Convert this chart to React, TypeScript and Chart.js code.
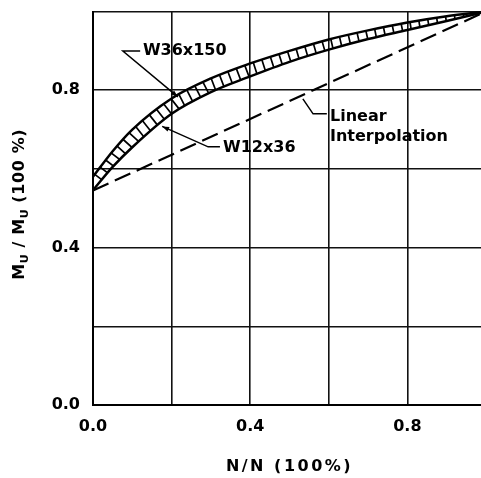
import { useEffect, useRef } from 'react';
import { Chart, registerables } from 'chart.js';

Chart.register(...registerables);

// ---- data ----
const nValues = [0, 0.05, 0.1, 0.2, 0.3, 0.4, 0.5, 0.6, 0.7, 0.8, 0.9, 1.0];
const w36x150 = [0.58, 0.645, 0.70, 0.779, 0.83, 0.868, 0.90, 0.929, 0.952, 0.972, 0.988, 1.0];
const w12x36 = [0.546, 0.605, 0.655, 0.74, 0.795, 0.835, 0.872, 0.903, 0.93, 0.953, 0.976, 1.0];
const linearN = [0, 1];
const linearM = [0.545, 1.0];
const xTickLabels = ['0.0', '0.4', '0.8'];
const yTickLabels = ['0.0', '0.4', '0.8'];
const xTitle = 'N/N (100%)';

// annotation texts with anchors in data units
const annotations = [
  { lines: ['W36x150'], textAt: [0.127, 0.8996], leader: [[0.12, 0.8996], [0.076, 0.8996], [0.216, 0.783]], arrow: true },
  { lines: ['W12x36'], textAt: [0.331, 0.653], leader: [[0.323, 0.656], [0.293, 0.656], [0.176, 0.708]], arrow: true },
  { lines: ['Linear', 'Interpolation'], textAt: [0.603, 0.732], leader: [[0.595, 0.74], [0.56, 0.74], [0.534, 0.778]], arrow: false },
];

const FONT = '"DejaVu Sans", sans-serif';
const WEIGHT = 'bold';
const SIZE = 16;

const setSpacing = (ctx: any, v: string) => {
  try { ctx.letterSpacing = v; } catch (e) {}
};

// hatch between the two section curves, following the library's own curve geometry
const hatchPlugin = {
  id: 'hatchPlugin',
  afterDatasetsDraw(chart: any) {
    const ctx = chart.ctx;
    const up = chart.getDatasetMeta(0).data;
    const lo = chart.getDatasetMeta(1).data;
    if (!up.length || !lo.length) return;
    ctx.save();
    ctx.beginPath();
    ctx.moveTo(up[0].x, up[0].y);
    for (let i = 1; i < up.length; i++) {
      ctx.bezierCurveTo(up[i - 1].cp2x, up[i - 1].cp2y, up[i].cp1x, up[i].cp1y, up[i].x, up[i].y);
    }
    ctx.lineTo(lo[lo.length - 1].x, lo[lo.length - 1].y);
    for (let i = lo.length - 1; i > 0; i--) {
      ctx.bezierCurveTo(lo[i].cp1x, lo[i].cp1y, lo[i - 1].cp2x, lo[i - 1].cp2y, lo[i - 1].x, lo[i - 1].y);
    }
    ctx.closePath();
    ctx.clip();
    ctx.strokeStyle = '#000';
    ctx.lineWidth = 1.7;
    const step = 9;
    let carry = 3;
    ctx.beginPath();
    for (let i = 0; i < up.length - 1; i++) {
      const ax = up[i].x, ay = up[i].y, bx = up[i + 1].x, by = up[i + 1].y;
      const len = Math.hypot(bx - ax, by - ay);
      if (len === 0) continue;
      const tx = (bx - ax) / len, ty = (by - ay) / len;
      const nx = -ty, ny = tx;
      let s = carry;
      while (s < len) {
        const px = ax + tx * s, py = ay + ty * s;
        ctx.moveTo(px - nx * 6, py - ny * 6);
        ctx.lineTo(px + nx * 30, py + ny * 30);
        s += step;
      }
      carry = s - len;
    }
    ctx.stroke();
    ctx.restore();
  },
};

const textPlugin = {
  id: 'textPlugin',
  beforeDraw(chart: any) {
    setSpacing(chart.ctx, '0px');
  },
  afterDraw(chart: any) {
    const { ctx, chartArea } = chart;
    const xs = chart.scales.x;
    const ys = chart.scales.y;
    ctx.save();
    setSpacing(ctx, '0px');
    ctx.fillStyle = '#000';
    ctx.strokeStyle = '#000';
    ctx.lineWidth = 1.5;

    // annotations
    for (const a of annotations) {
      const pts = a.leader.map(([x, y]) => [xs.getPixelForValue(x), ys.getPixelForValue(y)]);
      ctx.beginPath();
      ctx.moveTo(pts[0][0], pts[0][1]);
      for (let i = 1; i < pts.length; i++) ctx.lineTo(pts[i][0], pts[i][1]);
      ctx.stroke();
      if (a.arrow) {
        const [tx, ty] = pts[pts.length - 1];
        const [fx, fy] = pts[pts.length - 2];
        const ang = Math.atan2(ty - fy, tx - fx);
        const L = 7, W = 2.5;
        ctx.beginPath();
        ctx.moveTo(tx, ty);
        ctx.lineTo(tx - L * Math.cos(ang) + W * Math.sin(ang), ty - L * Math.sin(ang) - W * Math.cos(ang));
        ctx.lineTo(tx - L * Math.cos(ang) - W * Math.sin(ang), ty - L * Math.sin(ang) + W * Math.cos(ang));
        ctx.closePath();
        ctx.fill();
      }
      ctx.font = `${WEIGHT} ${SIZE}px ${FONT}`;
      ctx.textAlign = 'left';
      ctx.textBaseline = 'middle';
      const tx = xs.getPixelForValue(a.textAt[0]);
      const ty = ys.getPixelForValue(a.textAt[1]);
      a.lines.forEach((line, i) => ctx.fillText(line, tx, ty + i * 20));
    }

    // x title
    setSpacing(ctx, '2.5px');
    ctx.font = `${WEIGHT} ${SIZE}px ${FONT}`;
    ctx.textAlign = 'center';
    ctx.textBaseline = 'middle';
    ctx.fillText(xTitle, (chartArea.left + chartArea.right) / 2 + 0, chartArea.bottom + 62);

    // y title with subscripts
    setSpacing(ctx, '0.6px');
    const parts: [string, number, number][] = [
      ['M', SIZE, 0], ['U', 11, 5], [' / ', SIZE, 0], ['M', SIZE, 0], ['U', 11, 5], [' (100 %)', SIZE, 0],
    ];
    let total = 0;
    const widths = parts.map(([t, s]) => {
      ctx.font = `${WEIGHT} ${s}px ${FONT}`;
      const w = ctx.measureText(t).width;
      total += w;
      return w;
    });
    ctx.translate(20, (chartArea.top + chartArea.bottom) / 2 - 4);
    ctx.rotate(-Math.PI / 2);
    ctx.textAlign = 'left';
    let cx = -total / 2;
    parts.forEach(([t, s, off], i) => {
      ctx.font = `${WEIGHT} ${s}px ${FONT}`;
      ctx.fillText(t, cx, off);
      cx += widths[i];
    });
    ctx.restore();
  },
};

export default function App() {
  const ref = useRef<HTMLCanvasElement | null>(null);
  useEffect(() => {
    const canvas = ref.current!;

    const fmtTick = (labels: string[]) => (v: any) => {
      const s = Number(v).toFixed(1);
      return labels.includes(s) ? s : '';
    };

    const chart = new Chart(canvas, {
      type: 'line',
      data: {
        datasets: [
          {
            label: 'W36x150',
            data: nValues.map((x, i) => ({ x, y: w36x150[i] })),
            borderColor: '#000',
            borderWidth: 2.5,
            pointRadius: 0,
            cubicInterpolationMode: 'monotone',
            fill: false,
            clip: 6,
          },
          {
            label: 'W12x36',
            data: nValues.map((x, i) => ({ x, y: w12x36[i] })),
            borderColor: '#000',
            borderWidth: 2.5,
            pointRadius: 0,
            cubicInterpolationMode: 'monotone',
            fill: false,
            clip: 6,
          },
          {
            label: 'Linear Interpolation',
            data: linearN.map((x, i) => ({ x, y: linearM[i] })),
            borderColor: '#000',
            borderWidth: 2.2,
            borderDash: [17, 7],
            pointRadius: 0,
            fill: false,
            clip: 6,
          },
        ],
      },
      options: {
        animation: false,
        responsive: false,
        devicePixelRatio: 1,
        layout: { padding: { top: 11.5, right: 4, left: 0, bottom: 0 } },
        plugins: { legend: { display: false }, tooltip: { enabled: false } },
        scales: {
          x: {
            type: 'linear',
            min: 0,
            max: 1,
            afterFit: (s: any) => { s.height = 73; s.paddingLeft = 0; s.paddingRight = 0; },
            grid: { color: '#111', lineWidth: 1.6, drawTicks: false },
            border: { display: true, color: '#000', width: 2 },
            ticks: {
              stepSize: 0.2,
              padding: 12,
              color: '#000',
              font: { family: FONT, size: SIZE, weight: WEIGHT },
              maxRotation: 0,
              autoSkip: false,
              callback: fmtTick(xTickLabels),
            },
          },
          y: {
            type: 'linear',
            min: 0,
            max: 1,
            afterFit: (s: any) => { s.width = 93; s.paddingTop = 0; s.paddingBottom = 0; },
            grid: { color: '#111', lineWidth: 1.6, drawTicks: false },
            border: { display: true, color: '#000', width: 2 },
            ticks: {
              stepSize: 0.2,
              padding: 13,
              color: '#000',
              font: { family: FONT, size: SIZE, weight: WEIGHT },
              autoSkip: false,
              callback: fmtTick(yTickLabels),
            },
          },
        },
      },
      plugins: [hatchPlugin, textPlugin],
    } as any);
    return () => chart.destroy();
  }, []);

  return (
    <div style={{ position: 'fixed', left: 0, top: 0, width: 481, height: 478, overflow: 'hidden', background: '#fff' }}>
      <canvas ref={ref} width={490} height={478} style={{ display: 'block', width: 490, height: 478 }} />
    </div>
  );
}
